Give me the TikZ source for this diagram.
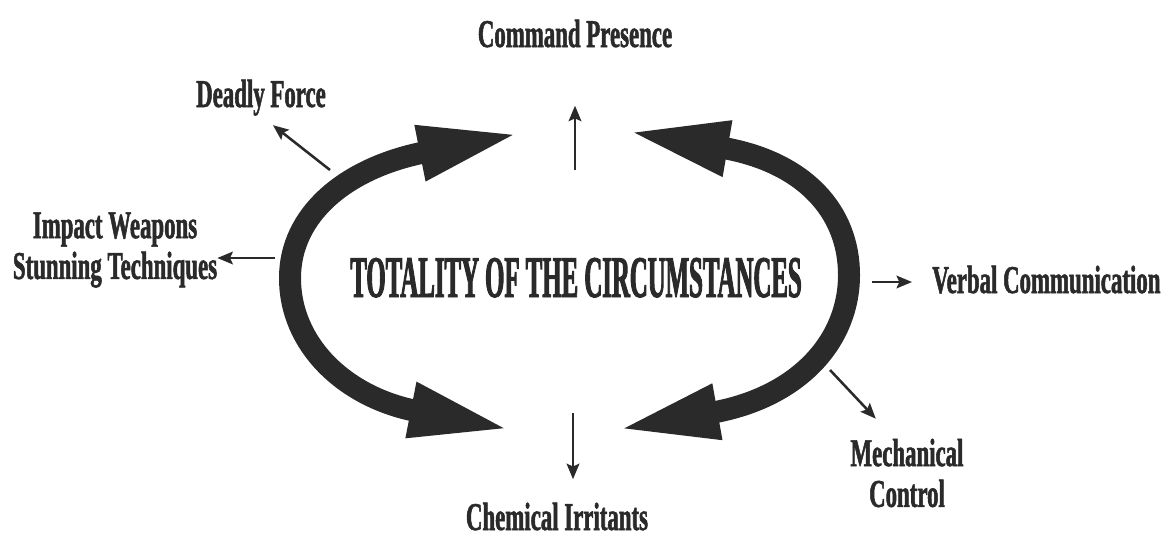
\documentclass[tikz,border=0pt]{standalone}
\usepackage{fontspec}
\usetikzlibrary{arrows.meta}
\newfontfamily\lblfont{Liberation Serif}[FakeStretch=0.58,FakeBold=1.3]
\newfontfamily\ttlfont{Liberation Serif}[FakeStretch=0.42,FakeBold=1.5]
\definecolor{ink}{HTML}{2A2A2A}

\begin{document}
\begin{tikzpicture}[x=0.025cm,y=-0.025cm,
  lbl/.style={inner sep=0pt,text=ink,align=center,
    font=\lblfont\bfseries\fontsize{28}{29}\selectfont},
  ttl/.style={inner sep=0pt,text=ink,
    font=\ttlfont\bfseries\fontsize{42}{44}\selectfont},
  bigarc/.style={draw=ink,line width=0.55cm,
    {Triangle[length=2.6cm,width=1.25cm]}-{Triangle[length=2.6cm,width=1.25cm]}},
  pointer/.style={draw=ink,line width=1.8pt,-{Stealth[length=11pt,width=9pt,inset=2pt]}}]
  \useasboundingbox (0,0) rectangle (1169,542);
  % labels
  \node[ttl,anchor=base] (total) at (576,297) {TOTALITY OF THE CIRCUMSTANCES};
  \node[lbl,anchor=base] (cmd) at (575,47) {Command Presence};
  \node[lbl,anchor=base] (deadly) at (261,107) {Deadly Force};
  \node[lbl] (impact) at (115,250) {Impact Weapons\\Stunning Techniques};
  \node[lbl,anchor=base west] (verbal) at (932,293) {Verbal Communication};
  \node[lbl] (mech) at (907,473) {Mechanical\\Control};
  \node[lbl,anchor=base] (chem) at (557,530) {Chemical Irritants};
  % tails of the small arrows, on the loop
  \coordinate (s-cmd) at (575,170);
  \coordinate (s-deadly) at (330,170);
  \coordinate (s-impact) at (275,258);
  \coordinate (s-verbal) at (872,282);
  \coordinate (s-mech) at (830,370);
  \coordinate (s-chem) at (573,413);
  % tips of the two big arcs
  \coordinate (lt) at (522,133);
  \coordinate (lb) at (513,430);
  \coordinate (rt) at (625,131);
  \coordinate (rb) at (615,430);
  \draw[bigarc] (lt) .. controls (345,168) and (290,215) .. (290,278)
    .. controls (290,345) and (345,397) .. (lb);
  \draw[bigarc] (rt) .. controls (805,162) and (849,212) .. (849,275)
    .. controls (849,340) and (800,397) .. (rb);
  % small arrows
  \draw[pointer,shorten >=1.45cm] (s-cmd) -- (s-cmd |- cmd.south);
  \draw[pointer,shorten >=0.38cm] (s-deadly) -- (deadly.south);
  \draw[pointer] (s-impact) -- (s-impact -| impact.east);
  \draw[pointer,shorten >=0.5cm] (s-verbal) -- (s-verbal -| verbal.west);
  \draw[pointer,shorten >=0.68cm] (s-mech) -- (mech.110);
  \draw[pointer,shorten >=0.58cm] (s-chem) -- (s-chem |- chem.north);
\end{tikzpicture}
\end{document}
